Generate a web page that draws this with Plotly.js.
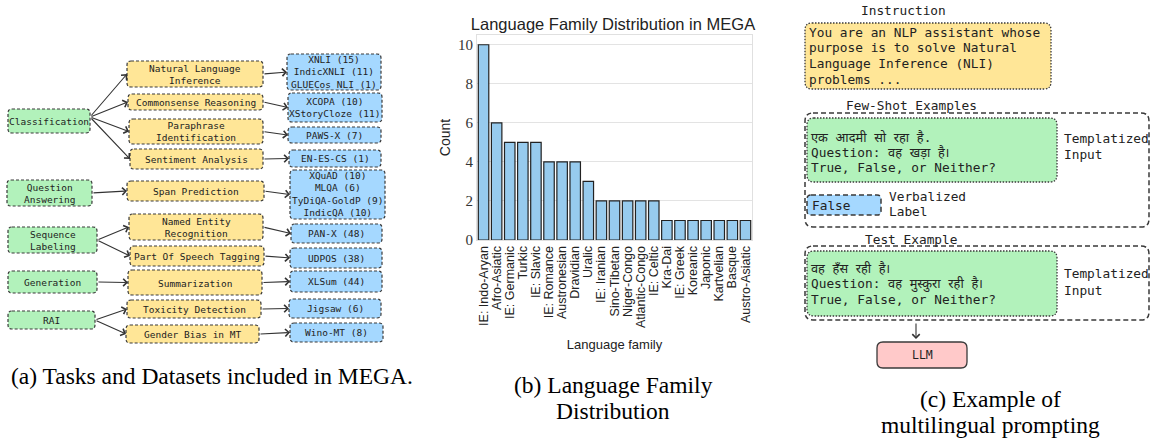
<!DOCTYPE html>
<html><head><meta charset="utf-8">
<script src="https://cdn.plot.ly/plotly-3.0.1.min.js"></script>
<style>html,body{margin:0;padding:0;background:#fff}#chart{width:1152px;height:439px}</style>
</head><body><div id="chart"></div>
<script>
// ---- Data: language family distribution ----
const families = ["IE: Indo-Aryan","Afro-Asiatic","IE: Germanic","Turkic","IE: Slavic","IE: Romance","Austronesian","Dravidian","Uralic","IE: Iranian","Sino-Tibetan","Niger-Congo","Atlantic-Congo","IE: Celtic","Kra-Dai","IE: Greek","Koreanic","Japonic","Kartvelian","Basque","Austro-Asiatic"];
const counts = [10,6,5,5,5,4,4,4,3,2,2,2,2,2,1,1,1,1,1,1,1];
const yTicks = [0,2,4,6,8,10];

// ---- Diagram text (panel a) ----
const taskGroups = ["Classification","Question<br>Answering","Sequence<br>Labeling","Generation","RAI"];
const tasks = ["Natural Language<br>Inference","Commonsense Reasoning","Paraphrase<br>Identification","Sentiment Analysis","Span Prediction","Named Entity<br>Recognition","Part Of Speech Tagging","Summarization","Toxicity Detection","Gender Bias in MT"];
const datasets = ["XNLI (15)<br>IndicXNLI (11)<br>GLUECos NLI (1)","XCOPA (10)<br>XStoryCloze (11)","PAWS-X (7)","EN-ES-CS (1)","XQuAD (10)<br>MLQA (6)<br>TyDiQA-GoldP (9)<br>IndicQA (10)","PAN-X (48)","UDPOS (38)","XLSum (44)","Jigsaw (6)","Wino-MT (8)"];
const groupOfTask = [0,0,0,0,1,2,2,3,4,4];

// ---- Diagram text (panel c) ----
const instructionLines = ["You are an NLP assistant whose","purpose is to solve Natural","Language Inference (NLI)","problems ..."];
const fewShotLines = ["एक आदमी सो रहा है.","Question: वह खड़ा है।","True, False, or Neither?"];
const testLines = ["वह हँस रही है।","Question: वह मुस्कुरा रही है।","True, False, or Neither?"];
const captionA = ["(a) Tasks and Datasets included in MEGA."];
const captionB = ["(b) Language Family","Distribution"];
const captionC = ["(c) Example of","multilingual prompting"];

// ---- layout helpers (pixel -> paper) ----
const W = 1152, H = 439;
const X = p => p / W, Y = p => 1 - p / H;
function rr(x0,y0,x1,y1,r){
  const a=X(x0),b=X(x1),c=Y(y0),d=Y(y1),rx=r/W,ry=r/H;
  return `M${a+rx},${c} L${b-rx},${c} Q${b},${c} ${b},${c-ry} L${b},${d+ry} Q${b},${d} ${b-rx},${d} L${a+rx},${d} Q${a},${d} ${a},${d+ry} L${a},${c-ry} Q${a},${c} ${a+rx},${c} Z`;
}
const shapes = [], annotations = [];
function box(x0,y0,x1,y1,fill,dash,width,r){
  shapes.push({type:'path',xref:'paper',yref:'paper',path:rr(x0,y0,x1,y1,r||5),fillcolor:fill,
    line:{color:'#3a3a3a',width:width||1.2,dash:dash||'solid'},layer:'above'});
}
function text(t,x,y,opts){
  opts=opts||{};
  annotations.push({text:t,x:X(x),y:Y(y),xref:'paper',yref:'paper',showarrow:false,
    xanchor:opts.xa||'center',yanchor:opts.ya||'middle',align:opts.align||'center',
    font:{family:opts.family||'DejaVu Sans Mono, monospace',size:opts.size||9.5,color:opts.color||'#222'}});
}
function arrow(x0,y0,x1,y1){
  annotations.push({text:'',x:X(x1),y:Y(y1),xref:'paper',yref:'paper',showarrow:true,
    ax:x0-x1,ay:y0-y1,arrowhead:4,arrowsize:1.3,arrowwidth:1.1,arrowcolor:'#333',standoff:0,startstandoff:0});
}

// ---- panel a boxes ----
const GREEN='#b2f2bb', YELLOW='#ffe697', BLUE='#a5d8ff', PINK='#ffc9c9';
const gBox=[[8,109,90,133],[7,180,92,206],[8,227,97,253],[8,271,97,293],[8,311,95,329]];
const tBox=[[127,61,263,87],[128,94,263,110],[129,119,263,144],[130,149,263,169],[127,181,264,201],[129,214,263,240],[130,246,264,266],[128,270,262,295],[127,300,261,318],[126,325,259,343]];
const dBox=[[287,54,381,90],[288,93,382,122],[288,127,381,143],[289,150,381,167],[290,170,385,219],[291,224,382,243],[290,248,382,268],[290,271,382,292],[289,299,381,318],[290,323,383,342]];
const dash='3px,2px';
gBox.forEach((b,i)=>{box(...b,GREEN,dash,1.2,4);text(taskGroups[i],(b[0]+b[2])/2,(b[1]+b[3])/2+0.5);});
tBox.forEach((b,i)=>{box(...b,YELLOW,dash,1.2,4);text(tasks[i],(b[0]+b[2])/2,(b[1]+b[3])/2+0.5);
  const g=gBox[groupOfTask[i]];
  arrow(g[2],(g[1]+g[3])/2 - (groupOfTask[i]===0?4:0),b[0],(b[1]+b[3])/2);});
dBox.forEach((b,i)=>{box(...b,BLUE,dash,1.2,4);text(datasets[i],(b[0]+b[2])/2,(b[1]+b[3])/2);
  const t=tBox[i]; arrow(t[2],(t[1]+t[3])/2,b[0],(b[1]+b[3])/2);});

// ---- panel c ----
const mono = 'DejaVu Sans Mono, Noto Sans, monospace';
const fs = 12.8;
text('Instruction',903,11,{size:fs,family:mono});
box(805,23,1051,89,YELLOW,'1.5px,1.5px',1.3,7);
instructionLines.forEach((l,i)=>text(l,807,32+i*15.9,{xa:'left',size:fs,family:mono}));
text('Few-Shot Examples',911,106,{size:fs,family:mono});
box(805,113,1149,227,'rgba(0,0,0,0)','5px,3px',1.5,8);
box(807,118,1057,182,GREEN,'1.5px,1.5px',1.3,7);
fewShotLines.forEach((l,i)=>text(l,809,137+i*15.3,{xa:'left',size:fs,family:mono}));
text('Templatized',1062,138,{xa:'left',size:fs,family:mono});
text('Input',1062,154,{xa:'left',size:fs,family:mono});
box(807,195,881,215,BLUE,'5px,3px',1.5,4);
text('False',810,205,{xa:'left',size:fs,family:mono});
text('Verbalized',887,196,{xa:'left',size:fs,family:mono});
text('Label',887,212,{xa:'left',size:fs,family:mono});
text('Test Example',911,239,{size:fs,family:mono});
box(805,246,1149,320,'rgba(0,0,0,0)','5px,3px',1.5,8);
box(807,251,1057,316,GREEN,'1.5px,1.5px',1.3,7);
testLines.forEach((l,i)=>text(l,809,268+i*15.5,{xa:'left',size:fs,family:mono}));
text('Templatized',1062,273,{xa:'left',size:fs,family:mono});
text('Input',1062,290,{xa:'left',size:fs,family:mono});
arrow(916,322,916,339);
box(877,342,967,368,PINK,'solid',1.3,6);
text('LLM',922,355,{size:11.5,family:mono});

// ---- captions ----
const serif='Liberation Serif, Times New Roman, serif';
const cs = 23.5;
text(captionA[0],212,376,{size:cs,family:serif,color:'#000'});
captionB.forEach((l,i)=>text(l,613,385+i*26,{size:cs,family:serif,color:'#000'}));
captionC.forEach((l,i)=>text(l,990,399+i*26,{size:cs,family:serif,color:'#000'}));

const trace = {type:'bar',x:families,y:counts,width:0.8,
  marker:{color:'#97cbee',line:{color:'#222',width:1.2}},hoverinfo:'x+y'};

const layout = {
  width:W,height:H,margin:{l:0,r:0,t:0,b:0},paper_bgcolor:'#fff',plot_bgcolor:'#fff',
  showlegend:false,
  title:{text:'Language Family Distribution in MEGA',x:X(613),y:Y(24),xanchor:'center',yanchor:'middle',
    font:{family:'Liberation Sans, Arial, sans-serif',size:16.5,color:'#222'}},
  xaxis:{domain:[X(477),X(752)],range:[-0.5,20.5],tickangle:-90,type:'category',
    tickmode:'array',tickvals:families,ticktext:families,
    tickfont:{family:'Liberation Sans, Arial, sans-serif',size:12.5,color:'#222'},
    showline:true,linecolor:'#e0e0e0',mirror:true,ticks:'',showgrid:false,zeroline:false,
    title:{text:'Language family',standoff:12,font:{family:'Liberation Sans, Arial, sans-serif',size:13,color:'#222'}}},
  yaxis:{domain:[Y(240),Y(35)],range:[0,10.5],tickvals:yTicks,ticktext:yTicks.map(String),
    tickfont:{family:serif,size:15,color:'#333'},showgrid:true,gridcolor:'#e3e3e3',gridwidth:1,
    showline:true,linecolor:'#e0e0e0',mirror:true,ticks:'',zeroline:false,
    title:{text:'Count',standoff:4,font:{family:'Liberation Sans, Arial, sans-serif',size:14,color:'#222'}}},
  shapes:shapes,annotations:annotations
};
Plotly.newPlot('chart',[trace],layout,{displayModeBar:false,staticPlot:true});
</script></body></html>
